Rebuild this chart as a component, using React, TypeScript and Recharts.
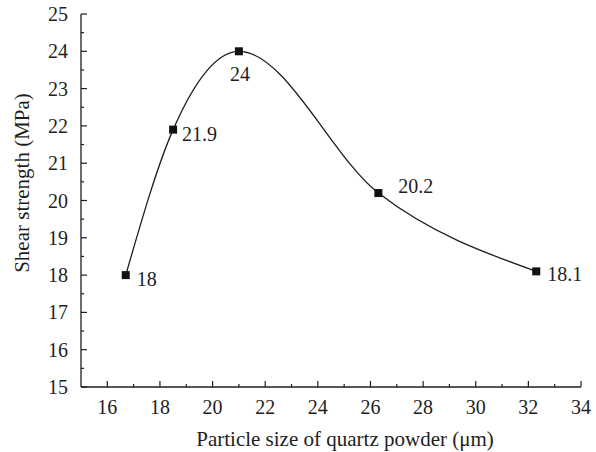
import { LineChart, Line, XAxis, YAxis, LabelList, Label } from "recharts";

// particle size (µm) vs shear strength (MPa)
const particleSize = [16.7, 18.5, 21.0, 26.3, 32.3];
const shearStrength = [18, 21.9, 24, 20.2, 18.1];

const xMajorTicks = [16, 18, 20, 22, 24, 26, 28, 30, 32, 34];
const xMinorTicks = [17, 19, 21, 23, 25, 27, 29, 31, 33];
const yMajorTicks = [15, 16, 17, 18, 19, 20, 21, 22, 23, 24, 25];
const yMinorTicks = [15.5, 16.5, 17.5, 18.5, 19.5, 20.5, 21.5, 22.5, 23.5, 24.5];

const FONT = "'Liberation Serif', 'Times New Roman', Times, serif";
const INK = "#1e1e1e";
const txt = { fontFamily: FONT, fontSize: 20, fill: INK };
const titleTxt = { ...txt, fontSize: 21 };

const data = particleSize.map((x, i) => ({ x, y: shearStrength[i] }));

const xTicks = [...xMajorTicks, ...xMinorTicks].sort((a, b) => a - b);
const yTicks = [...yMajorTicks, ...yMinorTicks].sort((a, b) => a - b);

const XTick = (props: any) => {
  const { x, y, payload } = props;
  const major = xMajorTicks.includes(payload.value);
  return (
    <g>
      <line x1={x} x2={x} y1={y} y2={y - (major ? 6 : 3)} stroke={INK} strokeWidth={1.2} />
      {major && (
        <text x={x} y={y + 27} textAnchor="middle" style={txt}>
          {payload.value}
        </text>
      )}
    </g>
  );
};

const YTick = (props: any) => {
  const { x, y, payload } = props;
  const major = yMajorTicks.includes(payload.value);
  const ax = x + 13;
  return (
    <g>
      <line x1={ax} x2={ax + (major ? 6 : 3)} y1={y} y2={y} stroke={INK} strokeWidth={1.2} />
      {major && (
        <text x={x} y={y} dy="0.35em" textAnchor="end" style={txt}>
          {payload.value}
        </text>
      )}
    </g>
  );
};

// where each value label sits relative to its marker
const labelOffsets = [
  { dx: 11, dy: 4, anchor: "start" },
  { dx: 9, dy: 4, anchor: "start" },
  { dx: 1, dy: 23, anchor: "middle" },
  { dx: 20, dy: -7, anchor: "start" },
  { dx: 11, dy: 3, anchor: "start" },
];

const ValueLabel = (props: any) => {
  const { x, y, value, index } = props;
  const o = labelOffsets[index] || { dx: 10, dy: 0, anchor: "start" };
  return (
    <text x={x + o.dx} y={y + o.dy} dy="0.35em" textAnchor={o.anchor} style={txt}>
      {value}
    </text>
  );
};

const SquareDot = (props: any) => {
  const { cx, cy, index } = props;
  return <rect key={`dot-${index}`} x={cx - 4} y={cy - 4} width={8} height={8} fill="#111" />;
};

export default function App() {
  return (
    <div style={{ position: "absolute", left: 0, top: 0, background: "#fff", fontFamily: FONT }}>
      <LineChart
        width={596}
        height={452}
        data={data}
        margin={{ top: 14, right: 15, bottom: 0, left: 0 }}
        style={{ fontFamily: FONT }}
      >
        <XAxis
          type="number"
          dataKey="x"
          domain={[15, 34]}
          ticks={xTicks}
          interval={0}
          height={65}
          tickSize={0}
          tickMargin={0}
          tick={<XTick />}
          axisLine={{ stroke: INK, strokeWidth: 1.3 }}
          tickLine={false}
        >
          <Label
            content={() => (
              <text x={345} y={446} textAnchor="middle" style={titleTxt}>
                Particle size of quartz powder (μm)
              </text>
            )}
          />
        </XAxis>
        <YAxis
          type="number"
          domain={[15, 25]}
          ticks={yTicks}
          interval={0}
          width={81}
          tickSize={0}
          tickMargin={13}
          tick={<YTick />}
          axisLine={{ stroke: INK, strokeWidth: 1.3 }}
          tickLine={false}
        >
          <Label
            content={() => (
              <text
                x={22}
                y={183}
                transform="rotate(-90 22 183)"
                textAnchor="middle"
                dy="0.35em"
                style={titleTxt}
              >
                Shear strength (MPa)
              </text>
            )}
          />
        </YAxis>
        <Line
          type="monotone"
          dataKey="y"
          stroke={INK}
          strokeWidth={1.3}
          dot={<SquareDot />}
          activeDot={false}
          isAnimationActive={false}
        >
          <LabelList dataKey="y" content={<ValueLabel />} />
        </Line>
      </LineChart>
    </div>
  );
}
